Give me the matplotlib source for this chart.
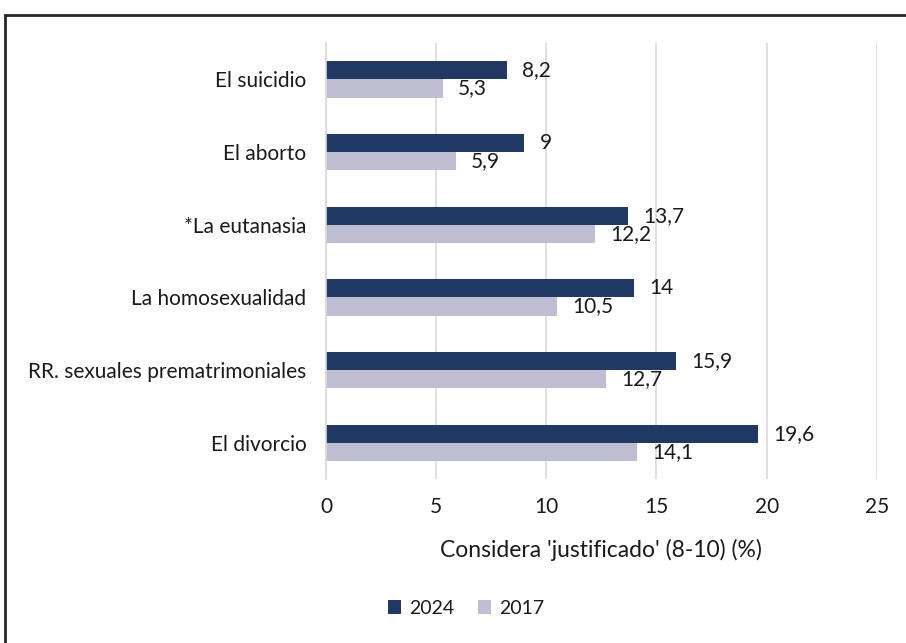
import numpy as np
import matplotlib
matplotlib.use('Agg')
import matplotlib.pyplot as plt
from matplotlib.patches import Rectangle

# === Data ===
categories = ['El suicidio', 'El aborto', '*La eutanasia', 'La homosexualidad',
              'RR. sexuales prematrimoniales', 'El divorcio']
values_2024 = [8.2, 9, 13.7, 14, 15.9, 19.6]
values_2017 = [5.3, 5.9, 12.2, 10.5, 12.7, 14.1]
series_names = ['2024', '2017']

color_2024 = '#203864'
color_2017 = '#bfbdd1'
text_color = '#1a1a1a'

plt.rcParams['font.family'] = ['Lato', 'DejaVu Sans']
fs = 15

fig = plt.figure(figsize=(9.06, 6.43), dpi=100)
ax = fig.add_axes([0.3598, 0.255, 0.608, 0.678])

y = np.arange(len(categories))
h = 0.25
bars_24 = ax.barh(y - h / 2, values_2024, height=h, color=color_2024, label=series_names[0])
bars_17 = ax.barh(y + h / 2, values_2017, height=h, color=color_2017, label=series_names[1])


def fmt(v):
    s = f"{v:g}"
    return s.replace('.', ',')


for bars, vals in [(bars_24, values_2024), (bars_17, values_2017)]:
    for b, v in zip(bars, vals):
        ax.annotate(fmt(v), (v, b.get_y() + b.get_height() / 2),
                    xytext=(11, 0), textcoords='offset points',
                    ha='left', va='center', fontsize=fs, color=text_color)

ax.set_xlim(0, 25)
ax.set_ylim(len(categories) - 0.5, -0.5)
ax.set_xticks(range(0, 26, 5))
ax.set_yticks(y)
ax.set_yticklabels(categories)
ax.tick_params(axis='both', length=0, labelsize=fs, colors=text_color)
ax.tick_params(axis='x', pad=13)
ax.tick_params(axis='y', pad=14)
ax.grid(axis='x', color='#d9d9d9', linewidth=1.2)
ax.set_axisbelow(True)
for s in ['top', 'right', 'bottom']:
    ax.spines[s].set_visible(False)
ax.spines['left'].set_color('#d9d9d9')
ax.spines['left'].set_linewidth(1.2)

ax.set_xlabel("Considera 'justificado' (8-10) (%)", fontsize=16.5, color=text_color, labelpad=16)

fig.legend(handles=[bars_24, bars_17], labels=series_names, loc='center',
           bbox_to_anchor=(466 / 906, 1 - 608 / 643), ncol=2, frameon=False,
           fontsize=14, handlelength=0.7, handleheight=0.7, handletextpad=0.4,
           columnspacing=1.2, labelcolor=text_color)

# outer frame like the original chart box
fig.patches.append(Rectangle((5 / 906, -0.1), 1.2, 1 - 15 / 643 + 0.1,
                             transform=fig.transFigure, fill=False,
                             edgecolor='#262626', linewidth=2))

fig.savefig('out.png', dpi=100)
